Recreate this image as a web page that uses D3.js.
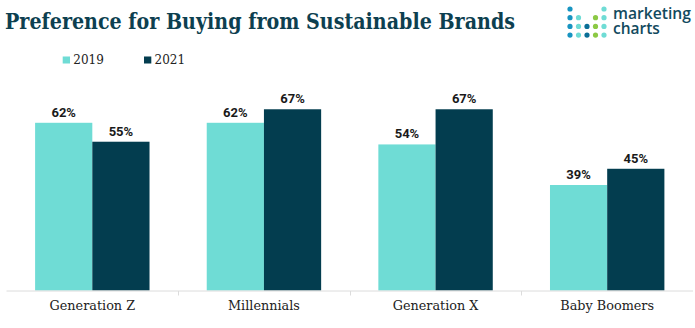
<!DOCTYPE html>
<html>
<head>
<meta charset="utf-8">
<script src="https://cdn.jsdelivr.net/npm/d3@7"></script>
<style>
  html, body { margin: 0; padding: 0; background: #fff; }
  svg { display: block; }
</style>
</head>
<body>
<svg id="chart" width="695" height="328"></svg>
<script>
const categories = ["Generation Z", "Millennials", "Generation X", "Baby Boomers"];
const seriesNames = ["2019", "2021"];
const values2019 = [62, 62, 54, 39];
const values2021 = [55, 67, 67, 45];
const seriesColors = ["#6fdcd5", "#033d4f"];

const valuesBySeries = [values2019, values2021];
const svg = d3.select("#chart");

// Title
svg.append("text")
  .attr("x", 5).attr("y", 29)
  .attr("font-family", "'DejaVu Serif Condensed', 'DejaVu Serif', serif")
  .attr("font-stretch", "condensed")
  .attr("font-weight", "bold")
  .attr("font-size", 23)
  .attr("fill", "#0d3f50")
  .attr("textLength", 510)
  .attr("lengthAdjust", "spacingAndGlyphs")
  .text("Preference for Buying from Sustainable Brands");

// Logo
const logoDots = [
  [0,0,"#1794c1"],[4,0,"#6fdcd5"],
  [0,1,"#1794c1"],[1,1,"#6fdcd5"],[3,1,"#8cc944"],[4,1,"#6fdcd5"],
  [0,2,"#1794c1"],[1,2,"#6fdcd5"],[2,2,"#0b6f97"],[3,2,"#8cc944"],[4,2,"#6fdcd5"],
  [0,3,"#1794c1"],[1,3,"#6fdcd5"],[2,3,"#0b6f97"],[3,3,"#8cc944"],[4,3,"#6fdcd5"]
];
const logo = svg.append("g").attr("transform", "translate(570,9)");
logo.selectAll("circle").data(logoDots).join("circle")
  .attr("cx", d => d[0] * 8.5)
  .attr("cy", d => d[1] * 8.7)
  .attr("r", 2.6)
  .attr("fill", d => d[2]);
svg.append("text").attr("x", 613).attr("y", 18.5)
  .attr("font-family", "'Open Sans', sans-serif").attr("font-weight", 600)
  .attr("font-size", 15.5).attr("fill", "#124a5e")
  .attr("textLength", 78).attr("lengthAdjust", "spacingAndGlyphs")
  .text("marketing");
svg.append("text").attr("x", 613).attr("y", 34)
  .attr("font-family", "'Open Sans', sans-serif").attr("font-weight", 600)
  .attr("font-size", 15.5).attr("fill", "#124a5e").text("charts");

// Legend
const legendX = d3.scaleOrdinal().domain(seriesNames).range([62.7, 144]);
const legend = svg.append("g").selectAll("g").data(seriesNames).join("g")
  .attr("transform", d => `translate(${legendX(d)},56.5)`);
legend.append("rect").attr("width", 7.3).attr("height", 7)
  .attr("fill", (d, i) => seriesColors[i]);
legend.append("text").attr("x", 10.6).attr("y", 7.6)
  .attr("font-family", "'DejaVu Serif', serif").attr("font-size", 12)
  .attr("fill", "#222").text(d => d);

// Scales
const x0 = d3.scaleBand().domain(categories).range([6.5, 693]).paddingInner(0).paddingOuter(0);
const x1 = d3.scaleBand().domain(seriesNames).range([0, x0.bandwidth()]).paddingInner(0).paddingOuter(0.5);
const y = d3.scaleLinear().domain([0, 100]).range([290.5, 20]);

// Bars
const groups = svg.append("g").selectAll("g").data(categories).join("g")
  .attr("transform", d => `translate(${x0(d)},0)`);

const cells = groups.selectAll("g.cell")
  .data((c, ci) => seriesNames.map((s, si) => ({ s, si, v: valuesBySeries[si][ci] })))
  .join("g").attr("class", "cell");

cells.append("rect")
  .attr("x", d => x1(d.s))
  .attr("y", d => y(d.v))
  .attr("width", x1.bandwidth())
  .attr("height", d => y(0) - y(d.v))
  .attr("fill", d => seriesColors[d.si]);

cells.append("text")
  .attr("x", d => x1(d.s) + x1.bandwidth() / 2)
  .attr("y", d => y(d.v) - 6)
  .attr("text-anchor", "middle")
  .attr("font-family", "Roboto, sans-serif").attr("font-weight", "bold")
  .attr("font-size", 13).attr("fill", "#1a1a1a")
  .text(d => d.v + "%");

// Axis
const axisG = svg.append("g").attr("transform", `translate(0,${y(0)})`);
axisG.append("line").attr("x1", x0.range()[0]).attr("x2", x0.range()[1])
  .attr("y1", 0.5).attr("y2", 0.5).attr("stroke", "#dcdcdc").attr("stroke-width", 1);
axisG.selectAll("line.tick").data(categories.slice(1)).join("line").attr("class", "tick")
  .attr("x1", d => Math.round(x0(d)) + 0.5).attr("x2", d => Math.round(x0(d)) + 0.5)
  .attr("y1", 0.5).attr("y2", 5).attr("stroke", "#dcdcdc");
axisG.selectAll("text").data(categories).join("text")
  .attr("x", d => x0(d) + x0.bandwidth() / 2)
  .attr("y", 19)
  .attr("text-anchor", "middle")
  .attr("font-family", "'DejaVu Serif', serif").attr("font-size", 12.8)
  .attr("fill", "#222")
  .text(d => d);
</script>
</body>
</html>
